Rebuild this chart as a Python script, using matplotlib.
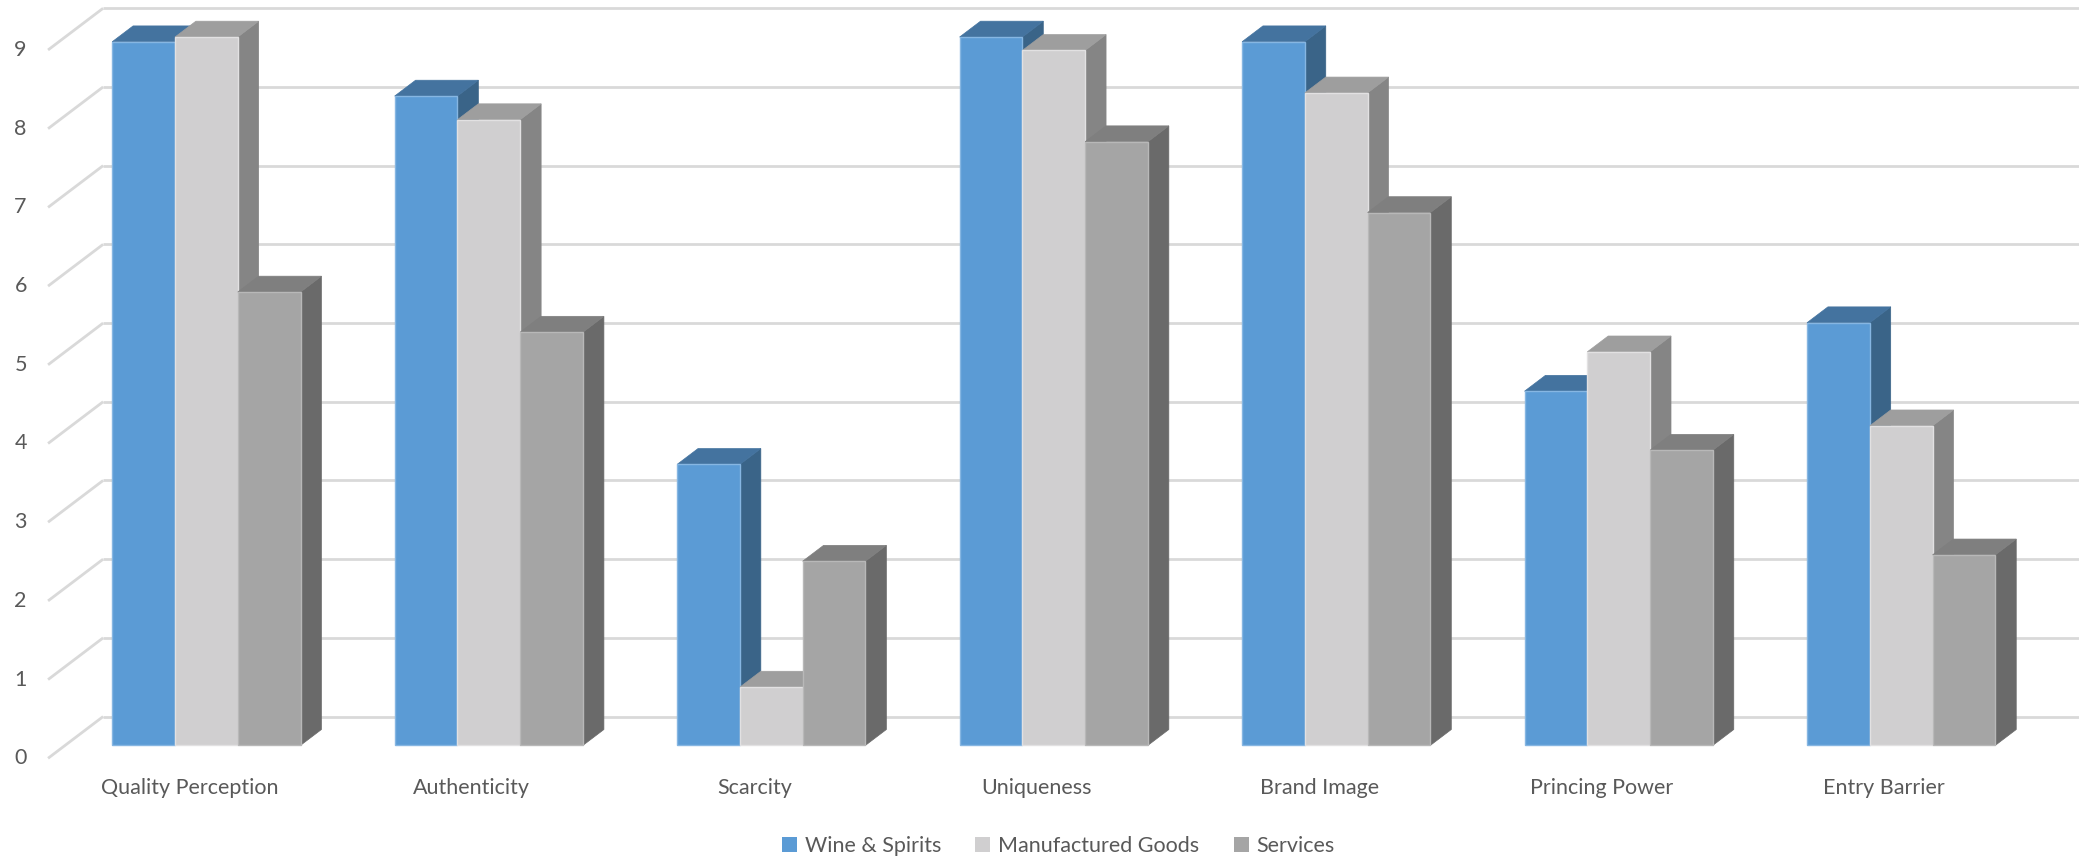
import matplotlib
matplotlib.use("Agg")
import matplotlib.pyplot as plt
from matplotlib.patches import Polygon

plt.rcParams['font.family'] = ['Lato', 'DejaVu Sans']

categories = ["Quality Perception", "Authenticity", "Scarcity", "Uniqueness",
              "Brand Image", "Princing Power", "Entry Barrier"]
series = ["Wine & Spirits", "Manufactured Goods", "Services"]
wine = [8.94, 8.25, 3.57, 9.0, 8.94, 4.5, 5.37]
manufactured = [9.0, 7.95, 0.74, 8.83, 8.29, 5.0, 4.06]
services = [5.76, 5.25, 2.34, 7.67, 6.77, 3.75, 2.42]
yticks = list(range(0, 10))

# front / top / side shades
colors = {
    "Wine & Spirits": ("#5B9BD5", "#44739F", "#3A6488"),
    "Manufactured Goods": ("#D0CFD0", "#9E9E9E", "#858585"),
    "Services": ("#A5A5A5", "#7F7F7F", "#6A6A6A"),
}
edges = {"Wine & Spirits": "#86B6E2", "Manufactured Goods": "#E2E1E2",
         "Services": "#B8B8B8"}

# oblique "3d" projection in data units (category width = 1, value = 1)
wall_dx, wall_dy = 0.1949, 0.53
front = 0.31      # bar front face position in depth
depth = 0.38      # bar thickness in depth
gap = 0.5         # excel gap width

fig = plt.figure(figsize=(20.79, 8.61), dpi=100)
ax = fig.add_axes([0, 0, 1, 1])
ax.set_xlim(-0.1701, 7.19)
ax.set_ylim(-1.305, 9.635)
ax.axis("off")

grid_c = "#D9D9D9"
for v in yticks:
    ax.plot([0, wall_dx], [v, v + wall_dy], color=grid_c, lw=2, zorder=1,
            solid_capstyle="butt")
    ax.plot([wall_dx, 7.3], [v + wall_dy, v + wall_dy], color=grid_c, lw=2,
            zorder=1, solid_capstyle="butt")
    ax.text(-0.075, v, str(v), ha="right", va="center", fontsize=15.5,
            color="#595959")

bw = (1 - gap / (1 + gap)) / 3   # width of one bar
ox, oy = front * wall_dx, front * wall_dy
ddx, ddy = depth * wall_dx, depth * wall_dy

z = 2
data = [wine, manufactured, services]
for i in range(len(categories)):
    start = i + (1 - 3 * bw) / 2 + ox
    for j, name in enumerate(series):
        val = data[j][i]
        fc, tc, sc = colors[name]
        x0 = start + j * bw
        x1 = x0 + bw
        top = val + oy
        side = Polygon([(x1, oy), (x1 + ddx, oy + ddy), (x1 + ddx, top + ddy),
                        (x1, top)], closed=True, fc=sc, ec=sc, lw=0.5, zorder=z)
        lid = Polygon([(x0, top), (x0 + ddx, top + ddy), (x1 + ddx, top + ddy),
                       (x1, top)], closed=True, fc=tc, ec=tc, lw=0.5, zorder=z)
        ax.add_patch(side)
        ax.add_patch(lid)
        ax.bar(x0, val, width=bw, bottom=oy, align="edge", color=fc,
               edgecolor=edges[name], linewidth=1, zorder=z + 0.5,
               label=name if i == 0 else None)
        z += 1

for i, cat in enumerate(categories):
    ax.text(i + 0.5, -0.377, cat, ha="center", va="center", fontsize=15.5,
            color="#595959")

leg = fig.legend(loc="center", bbox_to_anchor=(0.509, 0.0174), ncol=3,
                 frameon=False, fontsize=15.5, handlelength=0.7,
                 handleheight=0.7, handletextpad=0.35, columnspacing=1.6,
                 labelcolor="#595959")
for h in leg.legend_handles:
    h.set_edgecolor("none")

fig.savefig("out.png", dpi=100)
